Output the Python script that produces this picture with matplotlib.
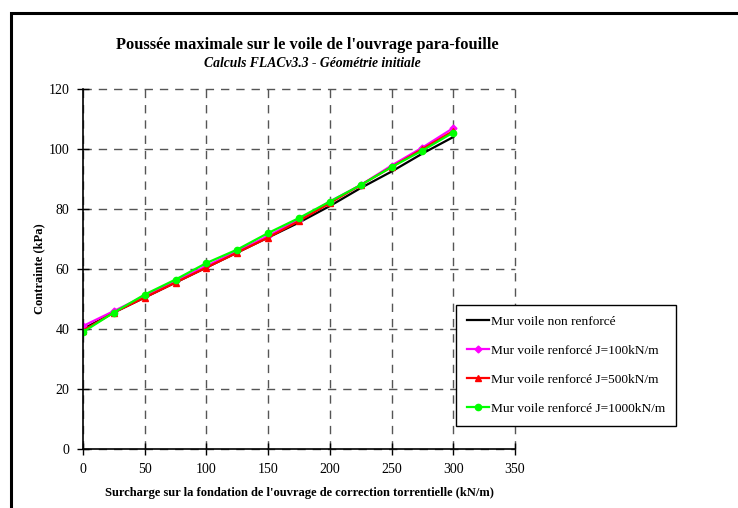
import numpy as np
import matplotlib.pyplot as plt
from matplotlib.patches import Rectangle

plt.rcParams['font.family'] = ['Liberation Serif', 'DejaVu Serif']

# data
surcharge = [0, 25, 50, 75, 100, 125, 150, 175, 200, 225, 250, 275, 300]
non_renforce = [40.0, 45.5, 50.5, 55.5, 60.5, 65.5, 70.5, 75.5, 81.0, 87.0, 92.5, 98.5, 104.0]
j100 = [41.0, 46.0, 51.0, 56.0, 61.0, 66.0, 71.0, 76.5, 82.5, 88.0, 94.5, 100.5, 107.0]
j500 = [39.5, 45.5, 50.5, 55.5, 60.5, 65.5, 70.5, 76.0, 82.0, 88.0, 94.0, 100.0, 106.0]
j1000 = [39.0, 45.5, 51.5, 56.5, 62.0, 66.5, 72.0, 77.0, 82.5, 88.0, 94.0, 99.5, 105.5]
labels = ["Mur voile non renforcé", "Mur voile renforcé J=100kN/m",
          "Mur voile renforcé J=500kN/m", "Mur voile renforcé J=1000kN/m"]

fig = plt.figure(figsize=(7.38, 5.08), dpi=100)
ax = fig.add_axes([0.1125, 0.1161, 0.5854, 0.7087])

ax.plot(surcharge, non_renforce, color='black', lw=1.6, label=labels[0])
ax.plot(surcharge, j100, color='#ff00ff', lw=1.6, marker='D', ms=3.5, label=labels[1])
ax.plot(surcharge, j500, color='#ff0000', lw=1.6, marker='^', ms=4, label=labels[2])
ax.plot(surcharge, j1000, color='#00ff00', lw=1.6, marker='o', ms=4.5, label=labels[3])

ax.set_xlim(0, 350)
ax.set_ylim(0, 120)
ax.set_xticks(np.arange(0, 351, 50))
ax.set_yticks(np.arange(0, 121, 20))
ax.grid(True, color='#555555', linestyle=(0, (6, 5)), lw=1.0)
for gl in ax.get_xgridlines() + ax.get_ygridlines():
    gl.set_clip_on(False)
ax.set_axisbelow(True)
for s in ['top', 'right']:
    ax.spines[s].set_visible(False)
for s in ['left', 'bottom']:
    ax.spines[s].set_linewidth(1.2)
    ax.spines[s].set_zorder(3)
ax.tick_params(direction='inout', length=8, width=1, labelsize=10, pad=6)

ax.set_xlabel("Surcharge sur la fondation de l'ouvrage de correction torrentielle (kN/m)",
              fontsize=9, fontweight='bold', labelpad=8)
ax.set_ylabel("Contrainte (kPa)", fontsize=9, fontweight='bold', labelpad=2)

fig.text(0.416, 0.911, "Poussée maximale sur le voile de l'ouvrage para-fouille",
         ha='center', va='center', fontsize=11.8, fontweight='bold')
fig.text(0.423, 0.875, "Calculs FLACv3.3 - Géométrie initiale",
         ha='center', va='center', fontsize=9.8, fontweight='bold', style='italic')

leg = ax.legend(loc='upper left', bbox_to_anchor=(456 / 738, 1 - 305 / 508),
                bbox_transform=fig.transFigure, fontsize=9.6, frameon=True,
                fancybox=False, edgecolor='black', framealpha=1, borderaxespad=0,
                borderpad=0.8, labelspacing=1.25, handlelength=1.7, handletextpad=0.15)
leg.get_frame().set_linewidth(1.0)

# outer frame of the chart area
fig.patches.append(Rectangle((11 / 738, -0.05), 1.0, 1 - 13 / 508 + 0.05,
                             transform=fig.transFigure, fill=False,
                             edgecolor='black', lw=2.2))

fig.savefig('out.png', dpi=100)
